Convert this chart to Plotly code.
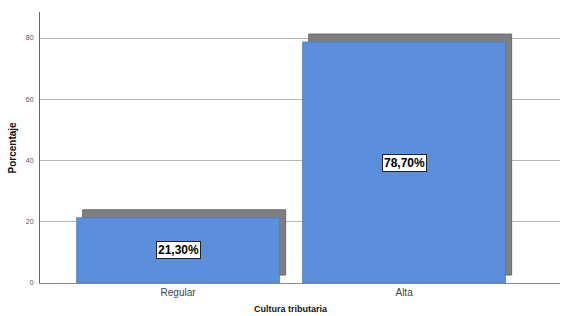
import plotly.graph_objects as go

categories = ["Regular", "Alta"]
percentages = [21.30, 78.70]
labels = ["21,30%", "78,70%"]
y_ticks = [0, 20, 40, 60, 80]

xpos = list(range(len(categories)))
blue = "#5b8edb"
shadow = "#7f7f7f"
bw = 0.898

fig = go.Figure()
# shadow bars
fig.add_trace(go.Bar(
    x=xpos, y=percentages, base=[2.6] * len(xpos),
    width=bw, offset=-bw / 2 + 0.027,
    marker=dict(color=shadow, line=dict(color="#6a6a6a", width=1)),
    hoverinfo="skip", showlegend=False,
))
# main bars
fig.add_trace(go.Bar(
    x=xpos, y=percentages, width=bw, offset=-bw / 2,
    marker=dict(color=blue, line=dict(color="#4a7cc8", width=0.8)),
    showlegend=False,
))

for xp, v, t in zip(xpos, percentages, labels):
    fig.add_annotation(
        x=xp, y=v / 2, text=f"<b>{t}</b>", showarrow=False,
        font=dict(family="Liberation Sans, Arial", size=12, color="black"),
        bgcolor="white", bordercolor="#222", borderwidth=1, borderpad=1,
    )

# axis titles
fig.add_annotation(
    xref="paper", yref="paper", x=-0.052, y=0.5, xanchor="center", yanchor="middle",
    text="<b>Porcentaje</b>", textangle=-90, showarrow=False,
    font=dict(family="Liberation Sans, Arial", size=10, color="#111"),
)
fig.add_annotation(
    xref="paper", yref="paper", x=0.483, y=-0.095, xanchor="center", yanchor="middle",
    text="<b>Cultura tributaria</b>", showarrow=False,
    font=dict(family="Liberation Sans, Arial", size=9, color="#111"),
)

fig.update_layout(
    width=561, height=316,
    margin=dict(l=40, r=1, t=12, b=33),
    plot_bgcolor="white", paper_bgcolor="white",
    barmode="overlay", bargap=0,
    font=dict(family="Liberation Sans, Arial", color="#333"),
    xaxis=dict(
        range=[-0.611, 1.69], tickvals=xpos, ticktext=categories,
        showgrid=False, showline=True, linecolor="#888", linewidth=1,
        ticks="", tickfont=dict(size=10, color="#444"),
        automargin=False, zeroline=False,
    ),
    yaxis=dict(
        range=[0, 88.5], tickvals=y_ticks,
        showgrid=True, gridcolor="#b5b5b5", gridwidth=1,
        showline=True, linecolor="#666", linewidth=1,
        ticks="", ticklabelstandoff=4,
        tickfont=dict(size=7, color="#555"),
        automargin=False, zeroline=False,
    ),
)

fig.write_html(
    "out.html",
    config={"displayModeBar": False, "staticPlot": True},
    post_script="document.body.style.margin='0';document.body.style.overflow='hidden';",
)
